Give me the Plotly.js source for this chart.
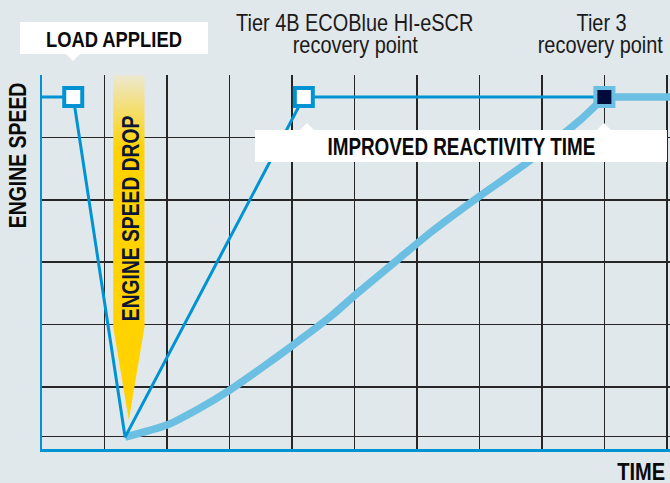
<!DOCTYPE html>
<html>
<head>
<meta charset="utf-8">
<script src="https://cdn.plot.ly/plotly-3.0.1.min.js"></script>
<style>
html,body{margin:0;padding:0;background:#e1e8eb;}
#chart{width:670px;height:483px;}
</style>
</head>
<body>
<div id="chart"></div>
<script>
// ---- data ----
const tier4X = [0, 0.5, 1.33, 4.19, 9.0];
const tier4Y = [5.65, 5.65, 0.19, 5.65, 5.65];
const tier3X = [1.33, 2.0, 2.48, 3.01, 3.54, 4.02, 4.61, 5.01, 5.68, 6.21, 6.99, 7.78, 8.61, 9.0, 10.05];
const tier3Y = [0.19, 0.385, 0.63, 0.95, 1.32, 1.67, 2.12, 2.47, 3.03, 3.47, 4.05, 4.61, 5.28, 5.65, 5.65];
const loadPointX = [0.5], loadPointY = [5.65];
const tier4PointX = [4.19], tier4PointY = [5.65];
const tier3PointX = [9.0], tier3PointY = [5.65];
const xGrid = [0, 1, 2, 3, 4, 5, 6, 7, 8, 9, 10];
const yGrid = [0.2, 1, 2, 3, 4, 5, 6];

// ---- styling ----
const BLUE = '#0093d3', LIGHT = '#6bbfe2', NAVY = '#000b3b', BG = '#e1e8eb';
const FONT = 'Liberation Sans, Arial, Helvetica, sans-serif';
const SX = 0.82; // horizontal condensing of the text, like a condensed face

// pixel -> paper helpers for decorations
const L = 42, B = 449, W = 628, H = 374;
const px = x => (x - L) / W;
const py = y => (B - y) / H;
function path(pts) {
  return 'M ' + pts.map(p => px(p[0]).toFixed(5) + ',' + py(p[1]).toFixed(5)).join(' L ') + ' Z';
}

const arrow = {
  x: [1.14, 1.64, 1.64, 1.39, 1.14, 1.14],
  y: [6.0, 6.0, 1.96, 0.465, 1.96, 6.0],
  type: 'scatter', mode: 'lines', fill: 'toself',
  line: {width: 0, color: 'rgba(0,0,0,0)'},
  fillgradient: {type: 'vertical', start: 6.0, stop: 4.8,
    colorscale: [[0, '#ece8cf'], [1, '#ffd200']]},
  hoverinfo: 'skip', showlegend: false
};

const nCurve = tier3X.indexOf(9.0) + 1;
const traces = [
  arrow,
  {x: tier3X.slice(0, nCurve), y: tier3Y.slice(0, nCurve), type: 'scatter', mode: 'lines',
   line: {color: LIGHT, width: 7.5, shape: 'spline', smoothing: 0.6}, showlegend: false},
  {x: tier3X.slice(nCurve - 1), y: tier3Y.slice(nCurve - 1), type: 'scatter', mode: 'lines',
   line: {color: LIGHT, width: 7.5}, showlegend: false},
  {x: tier4X, y: tier4Y, type: 'scatter', mode: 'lines',
   line: {color: BLUE, width: 3}, showlegend: false},
  {x: loadPointX.concat(tier4PointX), y: loadPointY.concat(tier4PointY), type: 'scatter', mode: 'markers',
   marker: {symbol: 'square', size: 18, color: '#ffffff', line: {color: BLUE, width: 4}}, showlegend: false},
  {x: tier3PointX, y: tier3PointY, type: 'scatter', mode: 'markers',
   marker: {symbol: 'square', size: 18, color: NAVY, line: {color: LIGHT, width: 4}}, showlegend: false}
];

const shapes = [
  {type: 'path', xref: 'paper', yref: 'paper', layer: 'above',
   path: path([[20,22],[208,22],[208,54],[80,54],[73,61],[66,54],[20,54]]),
   fillcolor: '#ffffff', line: {width: 0}},
  {type: 'path', xref: 'paper', yref: 'paper', layer: 'above',
   path: path([[255,130],[300,130],[307,123],[314,130],[597,130],[604,123],[611,130],[667,130],[667,162],[255,162]]),
   fillcolor: '#ffffff', line: {width: 0}}
];

function ann(text, x, y, size, weight, color, opts) {
  return Object.assign({text: text, xref: 'paper', yref: 'paper', x: px(x), y: py(y),
    showarrow: false, xanchor: 'center', yanchor: 'middle',
    font: {family: FONT, size: size, weight: weight, color: color}}, opts || {});
}

const annotations = [
  ann('LOAD APPLIED', 114, 39.3, 22.4, 700, '#0a0a0a'),
  ann('IMPROVED REACTIVITY TIME', 461, 146.7, 23, 700, '#0a0a0a'),
  ann('ENGINE SPEED', 18.3, 155, 23.7, 700, '#0a0a0a', {textangle: -90}),
  ann('TIME', 641.8, 471, 24.5, 700, '#0a0a0a'),
  ann('ENGINE SPEED DROP', 130.3, 218.5, 23.5, 700, '#0b1535', {textangle: -90}),
  ann('Tier 4B ECOBlue HI-eSCR', 354, 22.8, 24.3, 400, '#1a1a1a'),
  ann('recovery point', 355, 44.6, 24.3, 400, '#1a1a1a'),
  ann('Tier 3', 601, 22.8, 24.3, 400, '#1a1a1a'),
  ann('recovery point', 600, 44.6, 24.3, 400, '#1a1a1a')
];

const layout = {
  width: 670, height: 483,
  margin: {l: 42, r: 0, t: 75, b: 34, pad: 0},
  paper_bgcolor: BG, plot_bgcolor: BG,
  showlegend: false,
  xaxis: {range: [0, 10.05], tickmode: 'array', tickvals: xGrid, showticklabels: false, ticks: '',
    showgrid: true, gridcolor: '#262626', gridwidth: 1.7, zeroline: false,
    showline: true, linecolor: BLUE, linewidth: 2.5, fixedrange: true},
  yaxis: {range: [0, 6.005], tickmode: 'array', tickvals: yGrid, showticklabels: false, ticks: '',
    showgrid: true, gridcolor: '#262626', gridwidth: 1.7, zeroline: false,
    showline: true, linecolor: BLUE, linewidth: 2.5, fixedrange: true},
  shapes: shapes,
  annotations: annotations
};

const gd = document.getElementById('chart');
Plotly.newPlot(gd, traces, layout, {displayModeBar: false, staticPlot: true}).then(function () {
  gd.querySelectorAll('.annotation-text').forEach(function (t) {
    const x = parseFloat(t.getAttribute('x')) || 0;
    const prev = t.getAttribute('transform') || '';
    t.setAttribute('transform', prev + ' translate(' + x + ',0) scale(' + SX + ',1) translate(' + (-x) + ',0)');
  });
});
</script>
</body>
</html>
